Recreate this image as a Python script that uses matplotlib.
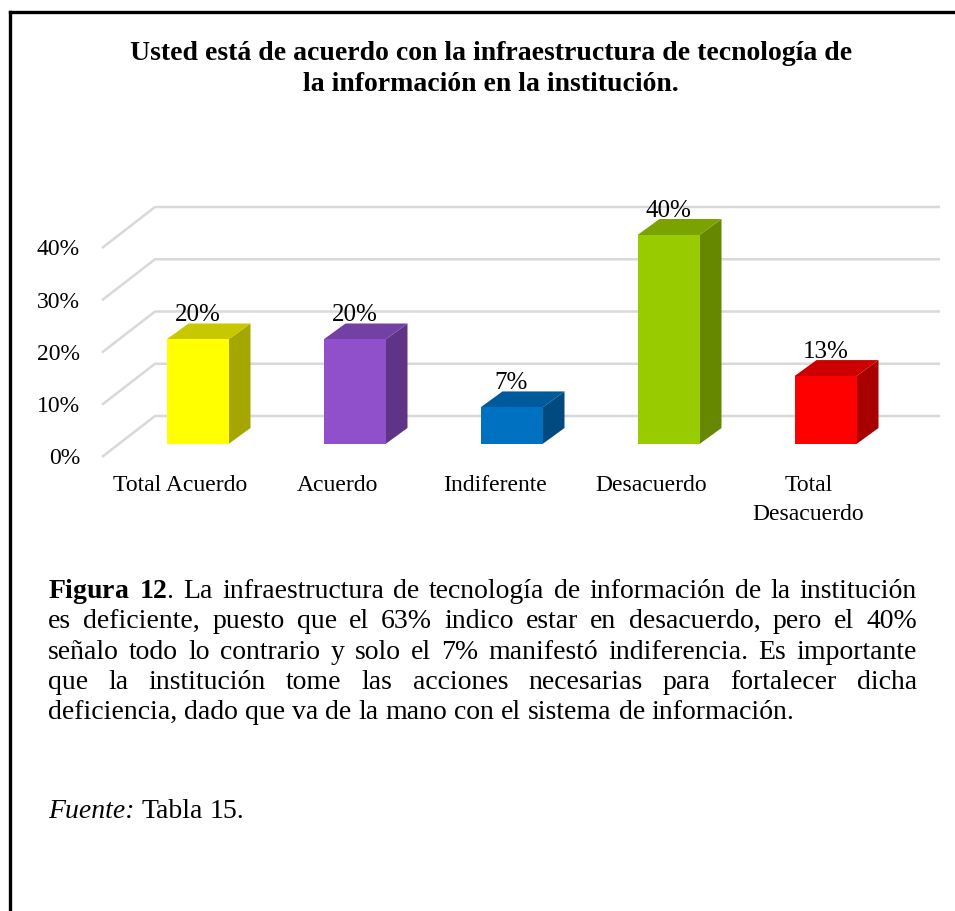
import matplotlib
matplotlib.use("Agg")
import matplotlib.pyplot as plt
from matplotlib.patches import Polygon, Rectangle
from matplotlib.lines import Line2D

# ── Datos ────────────────────────────────────────────────────────────────────
categorias = ["Total Acuerdo", "Acuerdo", "Indiferente", "Desacuerdo", "Total\nDesacuerdo"]
porcentajes = [20, 20, 7, 40, 13]
etiquetas = ["20%", "20%", "7%", "40%", "13%"]
ticks_y = [0, 10, 20, 30, 40]
ticks_y_txt = ["0%", "10%", "20%", "30%", "40%"]

colores_frente = ["#FFFF00", "#9150CB", "#0070C0", "#99CC00", "#FF0000"]
colores_tapa = ["#C8C800", "#7340A3", "#00599A", "#7AA300", "#CC0000"]
colores_lado = ["#A6A600", "#5F3487", "#004A80", "#668800", "#A80000"]

titulo = ["Usted está de acuerdo con la infraestructura de tecnología de",
          "la información en la institución."]

parrafo = [
    r"$\mathbf{Figura}$ $\mathbf{12}$. La infraestructura de tecnología de información de la institución",
    "es deficiente, puesto que el 63% indico estar en desacuerdo, pero el 40%",
    "señalo todo lo contrario y solo el 7% manifestó indiferencia. Es importante",
    "que la institución tome las acciones necesarias para fortalecer dicha",
    "deficiencia, dado que va de la mano con el sistema de información.",
]
fuente = "Fuente: Tabla 15."
fuente_estilos = ["italic", "normal", "normal"]

plt.rcParams["font.family"] = "serif"
plt.rcParams["font.serif"] = ["Liberation Serif", "DejaVu Serif"]
plt.rcParams["mathtext.fontset"] = "custom"
plt.rcParams["mathtext.rm"] = "Liberation Serif"
plt.rcParams["mathtext.bf"] = "Liberation Serif:bold"
plt.rcParams["mathtext.it"] = "Liberation Serif:italic"

# ── Geometría (pixeles) ──────────────────────────────────────────────────────
W, H = 955, 911
AX_L, AX_R, AX_T, AX_B = 119, 904, 235, 444
PX_X = (AX_R - AX_L) / 5.0
PX_Y = (AX_B - AX_T) / 40.0
LADO = (22 / PX_X, 16 / PX_Y)      # profundidad de cada barra
FONDO = (36 / PX_X, 28 / PX_Y)     # pared del fondo
FRENTE = (-17 / PX_X, -13 / PX_Y)  # plano frontal (ejes)
ANCHO = 62 / PX_X
GRIS = "#D9D9D9"

fig = plt.figure(figsize=(W / 100, H / 100), dpi=100)
ax = fig.add_axes([AX_L / W, 1 - AX_B / H, (AX_R - AX_L) / W, (AX_B - AX_T) / H])
ax.set_xlim(-0.5, 4.5)
ax.set_ylim(0, 40)
ax.axis("off")

# ── Rejilla 3D ───────────────────────────────────────────────────────────────
x_izq, x_der = ax.get_xlim()
for v, txt in zip(ticks_y, ticks_y_txt):
    ax.plot([x_izq + FRENTE[0], x_izq + FONDO[0], x_der + FONDO[0]],
            [v + FRENTE[1], v + FONDO[1], v + FONDO[1]],
            color=GRIS, lw=1.8, clip_on=False, zorder=1, solid_capstyle="butt")
    ax.text(x_izq + FRENTE[0] - 22 / PX_X, v + FRENTE[1] - 2 / PX_Y, txt,
            ha="right", va="center", fontsize=17)

# ── Barras ───────────────────────────────────────────────────────────────────
dx, dy = LADO
for i, (v, lab) in enumerate(zip(porcentajes, etiquetas)):
    x0, x1 = i - ANCHO / 2, i + ANCHO / 2
    ax.add_patch(Polygon([(x1, 0), (x1 + dx, dy), (x1 + dx, v + dy), (x1, v)],
                         closed=True, fc=colores_lado[i], ec="none", clip_on=False, zorder=2))
    ax.add_patch(Polygon([(x0, v), (x1, v), (x1 + dx, v + dy), (x0 + dx, v + dy)],
                         closed=True, fc=colores_tapa[i], ec="none", clip_on=False, zorder=2))
    ax.add_patch(Rectangle((x0, 0), ANCHO, v, fc=colores_frente[i], ec="none",
                           clip_on=False, zorder=3))
    ax.text(i, v + dy + 2 / PX_Y, lab, ha="center", va="baseline", fontsize=18, zorder=5)
    for k, parte in enumerate(categorias[i].split("\n")):
        ax.text(i + FRENTE[0], FRENTE[1] - (34 + 29 * k) / PX_Y, parte,
                ha="center", va="baseline", fontsize=17)

# ── Título ───────────────────────────────────────────────────────────────────
for linea, yb in zip(titulo, [60, 91]):
    fig.text(491 / W, 1 - yb / H, linea, ha="center", va="baseline",
             fontsize=20, fontweight="bold")

# ── Párrafo justificado ──────────────────────────────────────────────────────
renderer = fig.canvas.get_renderer()
X0, X1 = 48, 917
FS = 20


def escribir_linea(linea, yb, justificar, estilos=None):
    palabras = linea.split(" ")
    estilos = estilos or ["normal"] * len(palabras)
    textos = [fig.text(0, 1 - yb / H, p, fontsize=FS, fontstyle=e, va="baseline", ha="left")
              for p, e in zip(palabras, estilos)]
    anchos = [t.get_window_extent(renderer).width for t in textos]
    if justificar and len(textos) > 1:
        hueco = (X1 - X0 - sum(anchos)) / (len(textos) - 1)
    else:
        hueco = FS * 100 / 72 * 0.25
    x = X0
    for t, w in zip(textos, anchos):
        t.set_x(x / W)
        x += w + hueco


bases = [598, 628, 659, 689, 719]
for k, (linea, yb) in enumerate(zip(parrafo, bases)):
    escribir_linea(linea, yb, k < len(parrafo) - 1)
escribir_linea(fuente, 818, False, fuente_estilos)

# ── Marco ────────────────────────────────────────────────────────────────────
fig.add_artist(Line2D([10 / W, 10 / W], [0, 1 - 12 / H], color="black", lw=2.4,
                      transform=fig.transFigure))
fig.add_artist(Line2D([10 / W, 1], [1 - 12 / H, 1 - 12 / H], color="black", lw=2.4,
                      transform=fig.transFigure, solid_capstyle="projecting"))

fig.savefig("out.png", dpi=100)
